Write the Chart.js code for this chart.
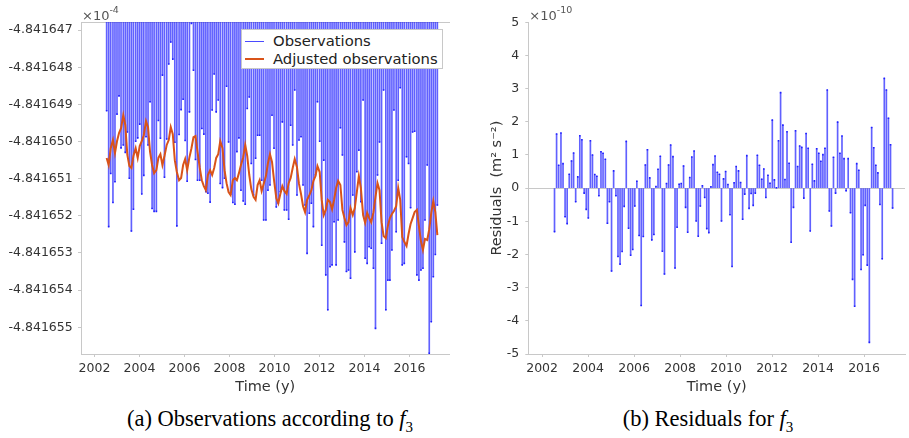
<!DOCTYPE html>
<html>
<head>
<meta charset="utf-8">
<title>Observations and residuals for f3</title>
<script src="https://cdn.jsdelivr.net/npm/chart.js"></script>
<style>
  body { margin: 0; background: #fff; }
  #wrap { position: relative; width: 909px; height: 438px; overflow: hidden; }
  canvas { position: absolute; top: 0; }
  #obsCanvas { left: 0; }
  #resCanvas { left: 460px; }
  .legend { position: absolute; left: 241px; top: 29px; width: 202px; height: 40px;
            border: 1px solid #c8c8c8; background: #fff; box-sizing: border-box;
            font: 14.8px "DejaVu Sans"; color: #222; }
  .legend .row { position: absolute; left: 0; height: 18px; line-height: 18px; }
  .legend .sw { position: absolute; left: 3px; width: 19px; }
  .legend .tx { position: absolute; left: 31px; white-space: nowrap; }
  .caption { position: absolute; top: 406px; width: 400px; text-align: center;
             font: 22.5px "Liberation Serif"; color: #000; }
</style>
</head>
<body>
<div id="wrap">
  <canvas id="obsCanvas" width="460" height="400"></canvas>
  <canvas id="resCanvas" width="449" height="400"></canvas>
  <div class="legend">
    <div class="row" style="top:2px"><div class="sw" style="top:8.5px;border-top:1px solid #4a4aff"></div><div class="tx">Observations</div></div>
    <div class="row" style="top:20px"><div class="sw" style="top:8px;border-top:2px solid #d95319"></div><div class="tx">Adjusted observations</div></div>
  </div>
  <div class="caption" style="left:70px">(a) Observations according to <i>f</i><sub style="font-size:15px">3</sub></div>
  <div class="caption" style="left:508px">(b) Residuals for <i>f</i><sub style="font-size:15px">3</sub></div>
</div>
<script>
// time of each monthly solution (years)
const times = [
  2002.54, 2002.63, 2002.72, 2002.82, 2002.91, 2003.00, 2003.09, 2003.18, 2003.28, 2003.37,
  2003.46, 2003.55, 2003.64, 2003.73, 2003.83, 2003.92, 2004.01, 2004.10, 2004.19, 2004.29,
  2004.38, 2004.47, 2004.56, 2004.65, 2004.75, 2004.84, 2004.93, 2005.02, 2005.11, 2005.21,
  2005.30, 2005.39, 2005.48, 2005.57, 2005.66, 2005.76, 2005.85, 2005.94, 2006.03, 2006.12,
  2006.22, 2006.31, 2006.40, 2006.49, 2006.58, 2006.68, 2006.77, 2006.86, 2006.95, 2007.04,
  2007.14, 2007.23, 2007.32, 2007.41, 2007.50, 2007.59, 2007.69, 2007.78, 2007.87, 2007.96,
  2008.05, 2008.15, 2008.24, 2008.33, 2008.42, 2008.51, 2008.61, 2008.70, 2008.79, 2008.88,
  2008.97, 2009.07, 2009.16, 2009.25, 2009.34, 2009.43, 2009.52, 2009.62, 2009.71, 2009.80,
  2009.89, 2009.98, 2010.08, 2010.17, 2010.26, 2010.35, 2010.44, 2010.54, 2010.63, 2010.72,
  2010.81, 2010.90, 2011.00, 2011.09, 2011.18, 2011.27, 2011.36, 2011.45, 2011.55, 2011.64,
  2011.73, 2011.82, 2011.91, 2012.01, 2012.10, 2012.19, 2012.28, 2012.37, 2012.47, 2012.56,
  2012.65, 2012.74, 2012.83, 2012.93, 2013.02, 2013.11, 2013.20, 2013.29, 2013.38, 2013.48,
  2013.57, 2013.66, 2013.75, 2013.84, 2013.94, 2014.03, 2014.12, 2014.21, 2014.30, 2014.40,
  2014.49, 2014.58, 2014.67, 2014.76, 2014.85, 2014.95, 2015.04, 2015.13, 2015.22, 2015.31,
  2015.41, 2015.50, 2015.59, 2015.68, 2015.77, 2015.87, 2015.96, 2016.05, 2016.14, 2016.23,
  2016.33, 2016.42, 2016.51, 2016.60, 2016.69, 2016.79, 2016.88, 2016.97, 2017.06, 2017.15,
  2017.24
];

// observed values (x 1e-4)
const observations = [
  -4.84164917, -4.84165229, -4.84165086, -4.84165164, -4.84165108, -4.84164926, -4.84164877, -4.84165017, -4.84165009, -4.84165029,
  -4.84164974, -4.84165099, -4.84165241, -4.84165182, -4.84164999, -4.84164990, -4.84164953, -4.84165141, -4.84165091, -4.84164987,
  -4.84165009, -4.84164893, -4.84165180, -4.84165188, -4.84165188, -4.84164943, -4.84164991, -4.84164821, -4.84165096, -4.84164993,
  -4.84164791, -4.84164732, -4.84164778, -4.84165002, -4.84165227, -4.84164981, -4.84164914, -4.84164886, -4.84164997, -4.84165107,
  -4.84164920, -4.84164682, -4.84164808, -4.84165048, -4.84165104, -4.84165104, -4.84164965, -4.84164980, -4.84165135, -4.84165139,
  -4.84165163, -4.84164915, -4.84164818, -4.84164920, -4.84164888, -4.84165113, -4.84165124, -4.84165099, -4.84164851, -4.84165001,
  -4.84165142, -4.84165164, -4.84165169, -4.84165027, -4.84164990, -4.84165131, -4.84165160, -4.84165169, -4.84164911, -4.84164880,
  -4.84165059, -4.84165144, -4.84165045, -4.84164983, -4.84164983, -4.84165104, -4.84165211, -4.84165211, -4.84165131, -4.84165117,
  -4.84164929, -4.84165018, -4.84165176, -4.84165166, -4.84165135, -4.84164947, -4.84165184, -4.84165184, -4.84165209, -4.84164956,
  -4.84165009, -4.84164861, -4.84165144, -4.84164996, -4.84164987, -4.84165117, -4.84165171, -4.84165301, -4.84165193, -4.84165166,
  -4.84165229, -4.84165090, -4.84164893, -4.84164999, -4.84165279, -4.84165050, -4.84165359, -4.84165453, -4.84165337, -4.84165332,
  -4.84165216, -4.84165332, -4.84165211, -4.84164963, -4.84165036, -4.84165270, -4.84165350, -4.84165346, -4.84165368, -4.84165144,
  -4.84165297, -4.84165081, -4.84165023, -4.84165162, -4.84164888, -4.84165314, -4.84165328, -4.84165283, -4.84165287, -4.84165341,
  -4.84165503, -4.84165090, -4.84165001, -4.84165274, -4.84164861, -4.84165453, -4.84165373, -4.84165373, -4.84165292, -4.84164915,
  -4.84165243, -4.84165104, -4.84164855, -4.84165332, -4.84165328, -4.84165041, -4.84165059, -4.84165178, -4.84164974, -4.84164972,
  -4.84165359, -4.84165373, -4.84165346, -4.84165341, -4.84165211, -4.84165063, -4.84165570, -4.84165485, -4.84165364, -4.84165304,
  -4.84165171
];

// adjusted model values (x 1e-4)
const adjusted = [
  -4.84165044, -4.84165063, -4.84165018, -4.84164996, -4.84165031, -4.84164999, -4.84164977, -4.84164964, -4.84164929, -4.84164956,
  -4.84165036, -4.84165066, -4.84165071, -4.84165039, -4.84165018, -4.84165044, -4.84165012, -4.84164999, -4.84164983, -4.84164945,
  -4.84164961, -4.84165028, -4.84165063, -4.84165085, -4.84165077, -4.84165044, -4.84165034, -4.84165063, -4.84165039, -4.84165009,
  -4.84164996, -4.84164961, -4.84164980, -4.84165050, -4.84165082, -4.84165104, -4.84165098, -4.84165063, -4.84165047, -4.84165077,
  -4.84165042, -4.84165018, -4.84164988, -4.84164985, -4.84165028, -4.84165071, -4.84165104, -4.84165120, -4.84165131, -4.84165090,
  -4.84165077, -4.84165090, -4.84165071, -4.84165044, -4.84165034, -4.84164999, -4.84165018, -4.84165077, -4.84165112, -4.84165136,
  -4.84165144, -4.84165104, -4.84165098, -4.84165104, -4.84165085, -4.84165063, -4.84165042, -4.84165009, -4.84165039, -4.84165090,
  -4.84165128, -4.84165149, -4.84165157, -4.84165117, -4.84165104, -4.84165133, -4.84165114, -4.84165093, -4.84165058, -4.84165034,
  -4.84165055, -4.84165104, -4.84165152, -4.84165166, -4.84165141, -4.84165120, -4.84165133, -4.84165141, -4.84165112, -4.84165098,
  -4.84165071, -4.84165047, -4.84165069, -4.84165114, -4.84165141, -4.84165174, -4.84165190, -4.84165157, -4.84165144, -4.84165131,
  -4.84165106, -4.84165093, -4.84165066, -4.84165082, -4.84165157, -4.84165198, -4.84165184, -4.84165157, -4.84165163, -4.84165182,
  -4.84165157, -4.84165125, -4.84165106, -4.84165117, -4.84165184, -4.84165206, -4.84165225, -4.84165217, -4.84165179, -4.84165198,
  -4.84165179, -4.84165136, -4.84165093, -4.84165125, -4.84165198, -4.84165219, -4.84165192, -4.84165206, -4.84165217, -4.84165190,
  -4.84165149, -4.84165112, -4.84165131, -4.84165217, -4.84165254, -4.84165260, -4.84165227, -4.84165206, -4.84165195, -4.84165187,
  -4.84165174, -4.84165125, -4.84165157, -4.84165257, -4.84165270, -4.84165281, -4.84165249, -4.84165222, -4.84165206, -4.84165190,
  -4.84165184, -4.84165227, -4.84165268, -4.84165292, -4.84165262, -4.84165265, -4.84165236, -4.84165192, -4.84165160, -4.84165190,
  -4.84165252
];

// residuals (x 1e-10 m^2 s^-2)
const residuals = [
  -1.31, 1.63, 0.69, 1.66, 0.74, -0.86, -1.07, 0.42, 0.82, 1.06,
  -0.41, 0.34, 1.58, 1.46, -0.15, -0.64, -0.90, 1.43, 1.00, 0.41,
  0.36, -0.23, 1.10, 1.05, 0.87, -1.06, -0.41, -2.50, 0.52, -0.23,
  -2.06, -2.29, -1.91, -0.55, 1.41, -1.21, -2.02, -1.85, -0.54, 0.21,
  -1.43, -3.54, -1.46, 0.70, 1.16, 0.31, -1.56, -1.40, 0.05, 0.57,
  0.96, -1.90, -2.59, 0.14, 0.70, 1.30, 0.95, -2.41, -1.18, 0.12,
  0.14, 0.67, -0.58, -1.33, 0.32, 0.94, 1.12, -0.99, -1.45, -0.54,
  0.07, -0.28, -1.22, -1.34, 0.04, 0.71, 0.97, 0.48, 0.42, -0.99,
  0.28, 0.50, 0.11, -0.80, -2.36, 0.16, 0.65, 0.52, 0.17, -0.94,
  -0.18, 0.98, -0.61, -0.16, -0.52, -0.15, 0.99, 0.69, 0.27, 0.58,
  -0.28, 0.39, 0.15, 2.05, 0.25, 0.01, 1.43, 2.88, 1.90, 0.26,
  1.70, 0.75, -1.63, -0.58, 1.73, 0.65, 1.27, 1.23, -0.30, 1.65,
  1.20, -1.29, 0.72, 0.22, 1.19, 1.05, 0.81, 1.01, 1.20, 2.96,
  -0.69, -1.14, 0.93, -0.15, 1.99, 1.05, 1.57, 0.89, -0.08, 0.89,
  -0.74, -2.75, -3.56, 0.74, 0.54, -2.45, -2.01, -0.52, -2.32, -4.65,
  1.83, 1.22, 0.69, 0.46, -0.49, -2.13, 3.31, 2.96, 2.11, 1.31,
  -0.60
];

const xTicks = [2002, 2004, 2006, 2008, 2010, 2012, 2014, 2016];
const obsTicks = [-4.841647, -4.841648, -4.841649, -4.841650, -4.841651, -4.841652, -4.841653, -4.841654, -4.841655];
const resTicks = [5, 4, 3, 2, 1, 0, -1, -2, -3, -4, -5];

const AXIS = '#c8c8c8';
const TEXT = '#333';
Chart.defaults.font.family = '"DejaVu Sans"';
Chart.defaults.color = TEXT;

const obsPoints = times.map((t, i) => ({ x: t, y: observations[i] }));
const adjPoints = times.map((t, i) => ({ x: t, y: adjusted[i] }));
const resPoints = times.map((t, i) => ({ x: t, y: residuals[i] }));

function setTicks(values) {
  return scale => { scale.ticks = values.map(v => ({ value: v })); };
}

// "x10^n" factor written above the y axis
function exponentPlugin(exp) {
  return {
    id: 'exponent',
    afterDraw(chart) {
      const ctx = chart.ctx;
      const left = chart.chartArea.left + 1;
      ctx.save();
      ctx.fillStyle = '#555';
      ctx.font = '13px "DejaVu Sans"';
      ctx.fillText('×10', left, 19.5);
      const w = ctx.measureText('×10').width;
      ctx.font = '9.5px "DejaVu Sans"';
      ctx.fillText(exp, left + w, 12.5);
      ctx.restore();
    }
  };
}

function xScale() {
  return {
    type: 'linear', min: 2001.4, max: 2017.78, offset: false,
    afterBuildTicks: setTicks(xTicks),
    afterFit(s) { s.height = 46; },
    grid: { drawOnChartArea: false, offset: false, tickLength: 3, tickColor: AXIS },
    border: { color: AXIS },
    ticks: { padding: 4, font: { size: 12.5 }, callback: v => String(v) },
    title: { display: true, text: 'Time (y)', font: { size: 14.5 }, padding: { top: 0, bottom: 3.6 } }
  };
}

const stemColor = 'rgba(30,30,255,0.7)';

new Chart(document.getElementById('obsCanvas'), {
  type: 'bar',
  data: {
    datasets: [
      { type: 'line', data: adjPoints, borderColor: '#d95319', borderWidth: 2,
        pointRadius: 0, clip: 0, order: 0 },
      { type: 'scatter', data: obsPoints, pointStyle: 'rect', pointRadius: 1.1,
        backgroundColor: '#2020ff', borderWidth: 0, clip: 0, order: 1 },
      { type: 'bar', data: obsPoints, backgroundColor: stemColor,
        barThickness: 1, clip: 0, order: 2 }
    ]
  },
  options: {
    responsive: false, animation: false,
    layout: { padding: { top: 22, right: 10.5, left: 0, bottom: 0 } },
    plugins: { legend: { display: false }, tooltip: { enabled: false } },
    scales: {
      x: xScale(),
      top: {
        type: 'linear', position: 'top', min: 2001.4, max: 2017.78, offset: false,
        afterFit(s) { s.height = 0; },
        grid: { display: false }, ticks: { display: false },
        border: { color: AXIS }
      },
      y: {
        min: -4.84165572, max: -4.84164678,
        afterBuildTicks: setTicks(obsTicks),
        afterFit(s) { s.width = 81; },
        grid: { drawOnChartArea: false, tickLength: 3, tickColor: AXIS },
        border: { color: AXIS },
        ticks: { padding: 5.3, font: { size: 12.5 }, callback: v => v.toFixed(6) }
      }
    }
  },
  plugins: [exponentPlugin('-4')]
});

new Chart(document.getElementById('resCanvas'), {
  type: 'bar',
  data: {
    datasets: [
      { type: 'scatter', data: resPoints, pointStyle: 'rect', pointRadius: 1.1,
        backgroundColor: '#2020ff', borderWidth: 0, clip: 0, order: 0 },
      { type: 'bar', data: resPoints, backgroundColor: stemColor,
        barThickness: 1, clip: 0, order: 1 }
    ]
  },
  options: {
    responsive: false, animation: false,
    layout: { padding: { top: 22.3, right: 2.3, left: 28.3, bottom: 0 } },
    plugins: { legend: { display: false }, tooltip: { enabled: false } },
    scales: {
      x: xScale(),
      y: {
        min: -5, max: 5,
        afterBuildTicks: setTicks(resTicks),
        afterFit(s) { s.width = 40; },
        grid: {
          tickLength: 3, tickColor: AXIS,
          color: c => (c.tick && c.tick.value === 0 ? AXIS : 'rgba(0,0,0,0)')
        },
        border: { color: AXIS },
        ticks: { padding: 6, font: { size: 12.5 }, callback: v => String(v) },
        title: { display: true, text: 'Residuals  (m² s⁻²)', font: { size: 14.5 }, padding: { top: 0, bottom: 0 } }
      }
    }
  },
  plugins: [exponentPlugin('-10')]
});
</script>
</body>
</html>
